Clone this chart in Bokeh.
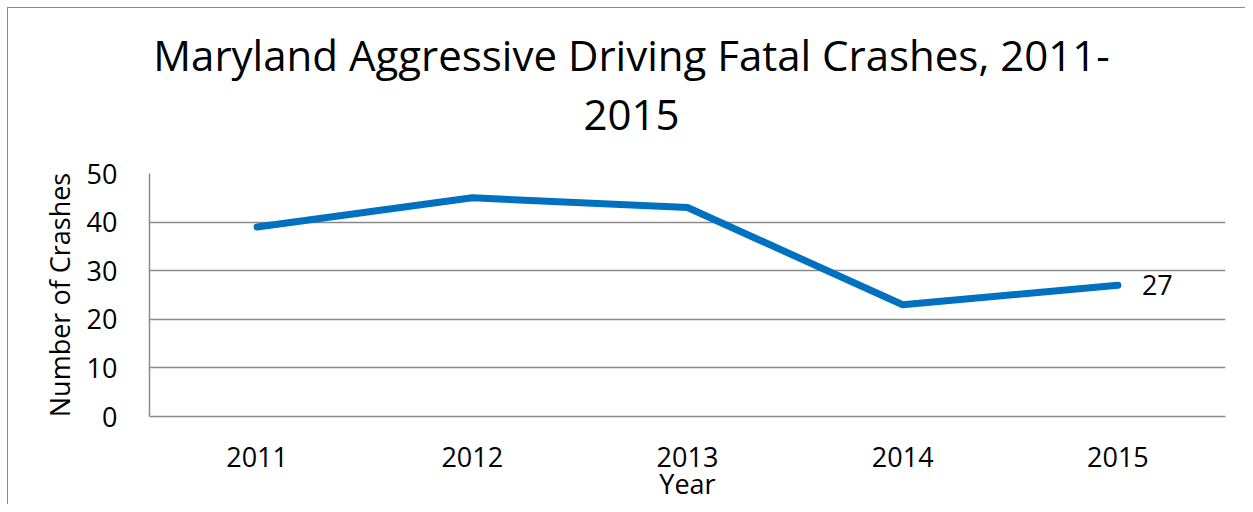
from bokeh.plotting import figure
from bokeh.models import Range1d, ColumnDataSource, InlineStyleSheet, Div
from bokeh.layouts import column
from bokeh.core.properties import value
from bokeh.embed import file_html
from bokeh.resources import INLINE

years = ["2011", "2012", "2013", "2014", "2015"]
crashes = [39, 45, 43, 23, 27]
title_line1 = "Maryland Aggressive Driving Fatal Crashes, 2011-"
title_line2 = "2015"
y_label = "Number of Crashes"
x_label = "Year"
y_ticks = [0, 10, 20, 30, 40, 50]

FONT = "Open Sans"
GRID = "#8a8a8a"
W = 1237
TITLE_H = 140

title = Div(
    text=(f'<div style="display:block;box-sizing:content-box;width:{W - 10}px;'
          f'font-family:\'{FONT}\';font-size:42px;line-height:59px;text-align:center;'
          f'color:black;white-space:nowrap;margin:0;padding:17px 0 0 10px;">'
          f'{title_line1}<br>{title_line2}</div>'),
    width=W, height=TITLE_H, margin=(0, 0, 0, 0))

p = figure(x_range=years, y_range=Range1d(0, 50), width=W, height=496 - TITLE_H,
           output_backend="svg", toolbar_location=None,
           min_border_left=141, min_border_right=20, min_border_top=165 - TITLE_H, min_border_bottom=88)
p.margin = (0, 0, 0, 0)
p.outline_line_color = None
p.background_fill_color = "white"
p.border_fill_color = "white"
p.title.visible = False

src = ColumnDataSource(dict(x=years, y=crashes))
p.line("x", "y", source=src, line_color="#0070C0", line_width=7, line_cap="round", line_join="round")

lbl = ColumnDataSource(dict(x=[years[-1]], y=[crashes[-1]], t=[str(crashes[-1])]))
p.text("x", "y", text="t", source=lbl, x_offset=24, text_baseline="middle", text_align="left",
       text_font=value(FONT), text_font_size="27px", text_color="black")

p.xgrid.grid_line_color = None
p.ygrid.grid_line_color = GRID
p.ygrid.grid_line_width = 1.5
p.yaxis.ticker = y_ticks

for ax in (p.xaxis[0], p.yaxis[0]):
    ax.axis_line_color = GRID
    ax.axis_line_width = 1.5
    ax.major_tick_line_color = None
    ax.minor_tick_line_color = None
    ax.major_label_text_font = FONT
    ax.major_label_text_font_size = "27px"
    ax.major_label_text_color = "black"
    ax.axis_label_text_font = FONT
    ax.axis_label_text_font_size = "27px"
    ax.axis_label_text_font_style = "normal"
    ax.axis_label_text_color = "black"

p.xaxis.major_label_standoff = 24
p.xaxis.axis_label = x_label
p.xaxis.axis_label_standoff = -5
p.yaxis.major_label_standoff = 26
p.yaxis.axis_label = y_label
p.yaxis.axis_label_standoff = 6

layout = column(title, p, spacing=0, margin=(7, 0, 0, 7))
layout.stylesheets = [InlineStyleSheet(css=":host { border-top: 1px solid #8a8a8a; border-left: 1px solid #8a8a8a; background: white; }")]

open("out.html", "w").write(file_html(layout, INLINE))
